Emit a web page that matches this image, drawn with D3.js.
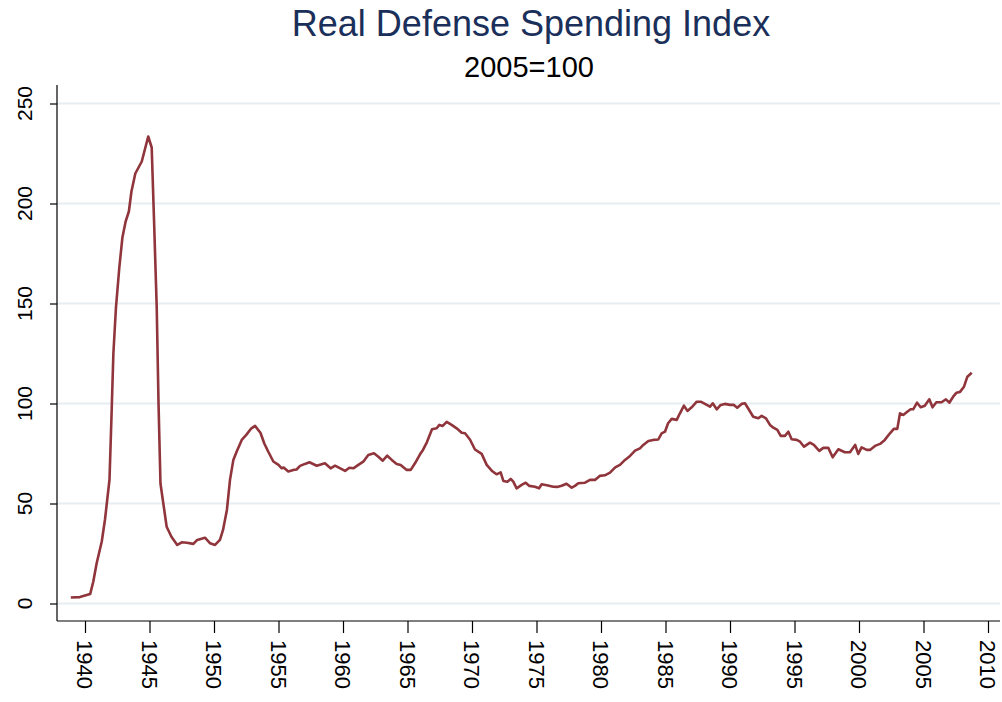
<!DOCTYPE html>
<html>
<head>
<meta charset="utf-8">
<script src="https://cdn.jsdelivr.net/npm/d3@7"></script>
<style>
  html, body { margin: 0; padding: 0; background: #fff; }
  svg { display: block; font-family: "Liberation Sans", Arial, sans-serif; }
</style>
</head>
<body>
<svg id="chart" width="1002" height="702"></svg>
<script>
const titleText = "Real Defense Spending Index";
const subtitleText = "2005=100";

const years = [1938.9,1939.6,1940.4,1940.64,1940.9,1941.3,1941.55,1941.9,1942.07,1942.2,1942.4,1942.66,1942.9,1943.15,1943.4,1943.6,1943.9,1944.4,1944.9,1945.17,1945.35,1945.56,1945.7,1945.85,1946.33,1946.7,1947.15,1947.5,1947.9,1948.4,1948.7,1949.3,1949.7,1950.08,1950.46,1950.7,1951.0,1951.24,1951.5,1951.76,1952.15,1952.5,1952.9,1953.18,1953.6,1953.9,1954.2,1954.6,1955.0,1955.25,1955.4,1955.76,1956.15,1956.4,1956.67,1957.05,1957.4,1957.96,1958.6,1959.04,1959.38,1960.16,1960.5,1960.8,1961.19,1961.57,1961.96,1962.4,1962.74,1963.08,1963.43,1963.78,1964.16,1964.47,1964.94,1965.25,1965.58,1965.97,1966.2,1966.5,1966.9,1967.26,1967.47,1967.73,1968.04,1968.42,1968.81,1969.2,1969.46,1969.84,1970.23,1970.75,1971.14,1971.53,1971.9,1972.22,1972.43,1972.74,1973.0,1973.2,1973.46,1973.85,1974.16,1974.45,1974.88,1975.2,1975.4,1975.8,1976.3,1976.6,1976.95,1977.33,1977.73,1977.98,1978.24,1978.76,1979.15,1979.53,1979.9,1980.3,1980.7,1981.1,1981.47,1981.86,1982.25,1982.64,1983.02,1983.28,1983.67,1984.05,1984.44,1984.7,1984.96,1985.2,1985.48,1985.87,1986.12,1986.43,1986.7,1987.03,1987.42,1987.73,1988.06,1988.45,1988.66,1988.97,1989.28,1989.6,1990.0,1990.3,1990.56,1990.9,1991.16,1991.4,1991.8,1992.2,1992.45,1992.79,1993.1,1993.36,1993.67,1993.93,1994.26,1994.52,1994.78,1995.17,1995.43,1995.74,1996.2,1996.5,1996.92,1997.23,1997.62,1997.96,1998.4,1998.9,1999.3,1999.7,1999.94,2000.2,2000.6,2000.85,2001.24,2001.63,2002.0,2002.4,2002.7,2002.97,2003.18,2003.43,2003.74,2004.0,2004.2,2004.5,2004.78,2005.1,2005.45,2005.7,2006.0,2006.4,2006.74,2007.0,2007.3,2007.56,2007.83,2008.14,2008.4,2008.74];

const spending = [3,3.2,4.7,10.9,20,31,42,62,97,125,148,168,183,191,196,206,215,221,233.5,228,192,148,100,60,38.4,33.4,29.3,30.6,30.4,29.8,31.8,32.9,30.1,29.3,31.8,36.8,46.8,61.8,71.8,76,81.8,84.3,87.6,88.8,85.4,80,76,71,69.3,67.6,68,66,66.8,67,68.8,69.8,70.6,68.9,70.1,67.6,68.9,66.3,67.9,67.6,69.3,70.9,74.3,75.1,73.4,71.4,73.9,71.8,69.8,69.3,66.8,66.8,70.1,74.6,76.8,80.6,87.1,87.6,89.3,88.8,90.8,89.3,87.6,85.4,85.1,82,77,74.8,69.3,66.4,64.6,65.6,61.3,60.9,62.3,60.9,57.6,59.3,60.4,58.8,58.4,57.6,59.6,59.1,58.4,58.3,58.9,59.9,57.9,58.8,60.1,60.4,61.8,61.8,63.8,64.1,65.4,68.1,69.3,71.8,73.8,76.4,77.6,79.3,81.3,81.8,82,85.1,85.9,90.1,92.3,91.8,95.1,98.9,96.3,98.1,100.9,100.9,99.8,98.4,100.1,97.1,99.3,99.8,99.3,99.3,97.9,99.8,100.1,97.6,93.4,92.6,93.8,92.6,89.3,87.9,86.8,83.8,83.8,85.9,82.1,81.8,80.9,78.4,80.4,79.3,76.3,77.8,77.8,73.1,77.1,75.6,75.6,79.3,74.8,78.1,76.8,76.8,78.8,79.8,81.8,85.1,87.3,87.3,95.1,94.3,95.9,97.1,97.1,100.4,98.1,98.9,102.1,98.1,100.6,100.6,102.1,100.4,103.4,105.4,105.8,108.4,113.4,115.4];

const xTicks = [1940,1945,1950,1955,1960,1965,1970,1975,1980,1985,1990,1995,2000,2005,2010];
const yTicks = [0,50,100,150,200,250];

const svg = d3.select("#chart");

const x = d3.scaleLinear().domain([1940, 2010]).range([85, 988]);
const y = d3.scaleLinear().domain([0, 250]).range([603.5, 103.5]);

const axisX = 57, axisY = 621, plotRight = 1000, axisTop = 85;

// gridlines
svg.append("g").selectAll("line").data(yTicks).join("line")
  .attr("x1", axisX).attr("x2", plotRight)
  .attr("y1", d => y(d)).attr("y2", d => y(d))
  .attr("stroke", "#e6eef1").attr("stroke-width", 2);

// Y axis
const gy = svg.append("g").attr("transform", `translate(${axisX},0)`)
  .call(d3.axisLeft(y).tickValues(yTicks).tickSize(7).tickFormat(""));
gy.select(".domain").remove();
gy.selectAll(".tick line").attr("stroke", "#000").attr("stroke-width", 1.2);
svg.append("line").attr("x1", axisX).attr("x2", axisX).attr("y1", axisTop).attr("y2", axisY)
  .attr("stroke", "#000").attr("stroke-width", 1.2);
svg.append("g").selectAll("text").data(yTicks).join("text")
  .attr("transform", d => `translate(32,${y(d)}) rotate(-90)`)
  .attr("text-anchor", "middle")
  .attr("font-size", 21).attr("fill", "#000")
  .text(d => d);

// X axis
const gx = svg.append("g").attr("transform", `translate(0,${axisY})`)
  .call(d3.axisBottom(x).tickValues(xTicks).tickSize(12).tickFormat(""));
gx.select(".domain").remove();
gx.selectAll(".tick line").attr("stroke", "#000").attr("stroke-width", 1.2);
svg.append("line").attr("x1", axisX).attr("x2", plotRight).attr("y1", axisY).attr("y2", axisY)
  .attr("stroke", "#000").attr("stroke-width", 1.2);
svg.append("g").selectAll("text").data(xTicks).join("text")
  .attr("transform", d => `translate(${x(d)},640) rotate(90)`)
  .attr("text-anchor", "start")
  .attr("dy", "0.35em")
  .attr("font-size", 22).attr("fill", "#000")
  .text(d => d);

// line
const data = years.map((yr, i) => ({ yr, v: spending[i] }));
svg.append("path").datum(data)
  .attr("fill", "none")
  .attr("stroke", "#90353b")
  .attr("stroke-width", 2.6)
  .attr("stroke-linejoin", "round")
  .attr("d", d3.line().x(d => x(d.yr)).y(d => y(d.v)));

// titles
svg.append("text").attr("x", 531).attr("y", 36).attr("text-anchor", "middle")
  .attr("font-size", 36).attr("fill", "#1a2f5a").text(titleText);
svg.append("text").attr("x", 529).attr("y", 77).attr("text-anchor", "middle")
  .attr("font-size", 29).attr("fill", "#000").text(subtitleText);
</script>
</body>
</html>
